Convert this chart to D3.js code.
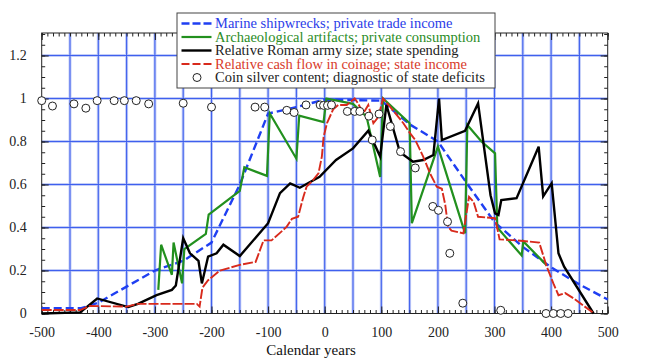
<!DOCTYPE html>
<html>
<head>
<meta charset="utf-8">
<script src="https://cdn.jsdelivr.net/npm/d3@7"></script>
<style>
  html, body { margin: 0; padding: 0; background: #fff; }
  svg { display: block; }
  svg text { font-family: "Liberation Serif", "Times New Roman", Tinos, "DejaVu Serif", "Noto Serif", serif !important; }
</style>
</head>
<body>
<svg id="chart" width="645" height="361"></svg>
<script>
// ---------- data ----------
const xTickValues = [-500, -400, -300, -200, -100, 0, 100, 200, 300, 400, 500];
const xTickLabels = ["-500", "-400", "-300", "-200", "-100", "0", "100", "200", "300", "400", "500"];
const yTickValues = [0, 0.2, 0.4, 0.6, 0.8, 1, 1.2];
const yTickLabels = ["0", "0.2", "0.4", "0.6", "0.8", "1", "1.2"];

const legendLabels = [
  "Marine shipwrecks; private trade income",
  "Archaeological artifacts; private consumption",
  "Relative Roman army size; state spending",
  "Relative cash flow in coinage; state income",
  "Coin silver content; diagnostic of state deficits"
];

const shipwrecks = [[-500,0.025],[-430,0.025],[-400,0.05],[-300,0.2],[-250,0.245],[-200,0.33],[-150,0.6],[-100,0.93],[-50,0.96],[0,0.995],[100,0.99],[150,0.88],[200,0.8],[250,0.61],[300,0.425],[350,0.31],[400,0.215],[450,0.135],[500,0.065]];

const artifacts = [[-294,0.11],[-289,0.32],[-270,0.18],[-267,0.33],[-252,0.14],[-248,0.30],[-210,0.37],[-205,0.46],[-150,0.57],[-142,0.68],[-102,0.64],[-97,0.93],[-50,0.72],[-45,0.92],[-2,0.89],[3,1.0],[50,0.975],[74,0.915],[98,0.635],[103,1.0],[150,0.885],[154,0.42],[200,0.776],[248,0.373],[252,0.877],[277,0.80],[301,0.745],[305,0.40],[348,0.27],[351,0.335],[392,0.225]];

const army = [[-500,0.0],[-432,0.005],[-402,0.07],[-347,0.03],[-330,0.045],[-297,0.085],[-270,0.11],[-263,0.13],[-250,0.35],[-238,0.28],[-223,0.245],[-217,0.14],[-206,0.265],[-191,0.28],[-179,0.32],[-150,0.267],[-100,0.42],[-79,0.56],[-61,0.605],[-44,0.585],[-9,0.636],[20,0.714],[50,0.768],[77,0.85],[98,0.73],[109,0.97],[133,0.75],[156,0.706],[174,0.714],[192,0.737],[202,1.0],[207,0.807],[248,0.85],[271,0.977],[293,0.55],[301,0.466],[307,0.458],[312,0.528],[339,0.536],[378,0.776],[386,0.545],[401,0.606],[413,0.28],[423,0.218],[475,0.0]];

const cashflow = [[-500,0.016],[-432,0.016],[-415,0.035],[-350,0.032],[-330,0.045],[-226,0.045],[-221,0.032],[-216,0.12],[-206,0.155],[-185,0.2],[-150,0.226],[-122,0.24],[-108,0.34],[-94,0.34],[-79,0.375],[-67,0.404],[-58,0.44],[-47,0.45],[-38,0.54],[-32,0.59],[-23,0.613],[-11,0.652],[-5,0.73],[-2,0.82],[4,0.885],[15,0.95],[24,0.97],[39,0.97],[53,1.0],[59,0.977],[68,0.93],[77,0.97],[86,0.885],[95,0.915],[103,1.0],[116,0.96],[139,0.885],[151,0.838],[160,0.807],[174,0.73],[186,0.652],[198,0.59],[207,0.58],[213,0.505],[218,0.404],[224,0.385],[245,0.373],[255,0.543],[263,0.52],[271,0.45],[301,0.443],[309,0.345],[340,0.34],[379,0.33],[392,0.22],[404,0.14],[413,0.085],[425,0.095],[440,0.07],[476,0.0]];

const silver = [[-500,0.99],[-481,0.965],[-443,0.975],[-422,0.955],[-402,0.99],[-372,0.99],[-354,0.99],[-333,0.99],[-311,0.975],[-250,0.978],[-200,0.96],[-123,0.96],[-106,0.96],[-67,0.945],[-54,0.935],[-33,0.97],[-8,0.97],[-2,0.968],[5,0.968],[12,0.97],[40,0.94],[53,0.94],[62,0.94],[78,0.918],[96,0.928],[116,0.87],[84,0.807],[134,0.753],[160,0.677],[191,0.498],[201,0.48],[217,0.427],[221,0.28],[244,0.048],[311,0.015],[391,0],[404,0],[417,0],[430,0]];

// ---------- layout ----------
const FONT = "'Liberation Serif', 'Times New Roman', Tinos, 'DejaVu Serif', serif";
const svg = d3.select("#chart");
const L = 41.7, R = 607.7, T = 33, B = 313.5;
const x = d3.scaleLinear().domain([-500, 500]).range([L, R]);
const y = d3.scaleLinear().domain([0, 1.3]).range([B, B - 1.3 * 215]);

const gridColor = "#3f60ee";
const grid = svg.append("g");
const xGrid = d3.range(-450, 500, 50);
const yGrid = [0.2, 0.4, 0.6, 0.8, 1, 1.2];
[["#c3cdf7", 3], [gridColor, 1.1]].forEach(([c, w]) => {
  grid.selectAll(null).data(xGrid).enter().append("line")
    .attr("x1", d => x(d)).attr("x2", d => x(d)).attr("y1", T).attr("y2", B)
    .attr("stroke", c).attr("stroke-width", w);
  grid.selectAll(null).data(yGrid).enter().append("line")
    .attr("x1", L).attr("x2", R).attr("y1", d => y(d)).attr("y2", d => y(d))
    .attr("stroke", c).attr("stroke-width", w);
});

function styleAxis(g) {
  g.attr("font-family", FONT);
  g.select(".domain").remove();
  g.selectAll(".tick line").attr("stroke", "#222").attr("stroke-width", 1);
  g.selectAll("text").attr("font-size", 14).attr("fill", "#222")
    .style("font-family", FONT);
}
const minorX = d3.range(-500, 501, 10);
const minorY = d3.range(0, 1.31, 0.05);

svg.append("g").attr("transform", `translate(0,${B})`)
  .call(d3.axisBottom(x).tickValues(minorX).tickSize(-3.5).tickFormat(""))
  .call(styleAxis);
svg.append("g").attr("transform", `translate(0,${T})`)
  .call(d3.axisTop(x).tickValues(minorX).tickSize(-3.5).tickFormat(""))
  .call(styleAxis);
svg.append("g").attr("transform", `translate(${L},0)`)
  .call(d3.axisLeft(y).tickValues(minorY).tickSize(-3.5).tickFormat(""))
  .call(styleAxis);
svg.append("g").attr("transform", `translate(${R},0)`)
  .call(d3.axisRight(y).tickValues(minorY).tickSize(-3.5).tickFormat(""))
  .call(styleAxis);

svg.append("g").attr("transform", `translate(0,${B})`)
  .call(d3.axisBottom(x).tickValues(xTickValues).tickSize(-7).tickPadding(14)
    .tickFormat((d, i) => xTickLabels[i]))
  .call(styleAxis);
svg.append("g").attr("transform", `translate(0,${T})`)
  .call(d3.axisTop(x).tickValues(xTickValues).tickSize(-7).tickFormat(""))
  .call(styleAxis);
svg.append("g").attr("transform", `translate(${L},0)`)
  .call(d3.axisLeft(y).tickValues(yTickValues).tickSize(-7).tickPadding(15)
    .tickFormat((d, i) => yTickLabels[i]))
  .call(styleAxis);
svg.append("g").attr("transform", `translate(${R},0)`)
  .call(d3.axisRight(y).tickValues(yTickValues).tickSize(-7).tickFormat(""))
  .call(styleAxis);

svg.append("rect").attr("x", L).attr("y", T).attr("width", R - L).attr("height", B - T)
  .attr("fill", "none").attr("stroke", "#222").attr("stroke-width", 1);

svg.append("text").attr("x", 311).attr("y", 355).attr("text-anchor", "middle")
  .style("font-family", FONT)
  .attr("font-size", 15).attr("fill", "#111").text("Calendar years");

const line = d3.line().x(d => x(d[0])).y(d => y(d[1]));
const seriesStyle = [
  { data: shipwrecks, color: "#1f3ff2", width: 2.4, dash: "8,4" },
  { data: artifacts, color: "#22901e", width: 2.2, dash: null },
  { data: army, color: "#000000", width: 2.4, dash: null },
  { data: cashflow, color: "#d82a1c", width: 1.9, dash: "10,2" }
];
const plot = svg.append("g");
seriesStyle.forEach(s => {
  plot.append("path").datum(s.data).attr("d", line)
    .attr("fill", "none").attr("stroke", s.color).attr("stroke-width", s.width)
    .attr("stroke-linejoin", "miter").attr("stroke-dasharray", s.dash);
});
plot.selectAll("circle.silver").data(silver).enter().append("circle")
  .attr("class", "silver")
  .attr("cx", d => x(d[0])).attr("cy", d => y(d[1])).attr("r", 4)
  .attr("fill", "#fff").attr("stroke", "#222").attr("stroke-width", 1);

const lg = svg.append("g");
lg.append("rect").attr("x", 177).attr("y", 13).attr("width", 318).attr("height", 75)
  .attr("fill", "#fff").attr("stroke", "#444").attr("stroke-width", 1);
const textColors = ["#2a3ce8", "#2a8c26", "#222222", "#d83a2a", "#222222"];
const rowY = [23.5, 37, 50.5, 64, 77.5];
legendLabels.forEach((lab, i) => {
  if (i < 4) {
    const s = seriesStyle[i];
    lg.append("line").attr("x1", 181.5).attr("x2", 211.5).attr("y1", rowY[i]).attr("y2", rowY[i])
      .attr("stroke", s.color).attr("stroke-width", s.width)
      .attr("stroke-dasharray", s.dash ? "8,3" : null);
  } else {
    lg.append("circle").attr("cx", 197).attr("cy", rowY[i]).attr("r", 4)
      .attr("fill", "#fff").attr("stroke", "#222").attr("stroke-width", 1);
  }
  lg.append("text").attr("x", 215).attr("y", rowY[i]).attr("dy", "0.33em")
    .style("font-family", FONT)
    .attr("font-size", 14.5).attr("fill", textColors[i]).text(lab);
});
</script>
</body>
</html>
